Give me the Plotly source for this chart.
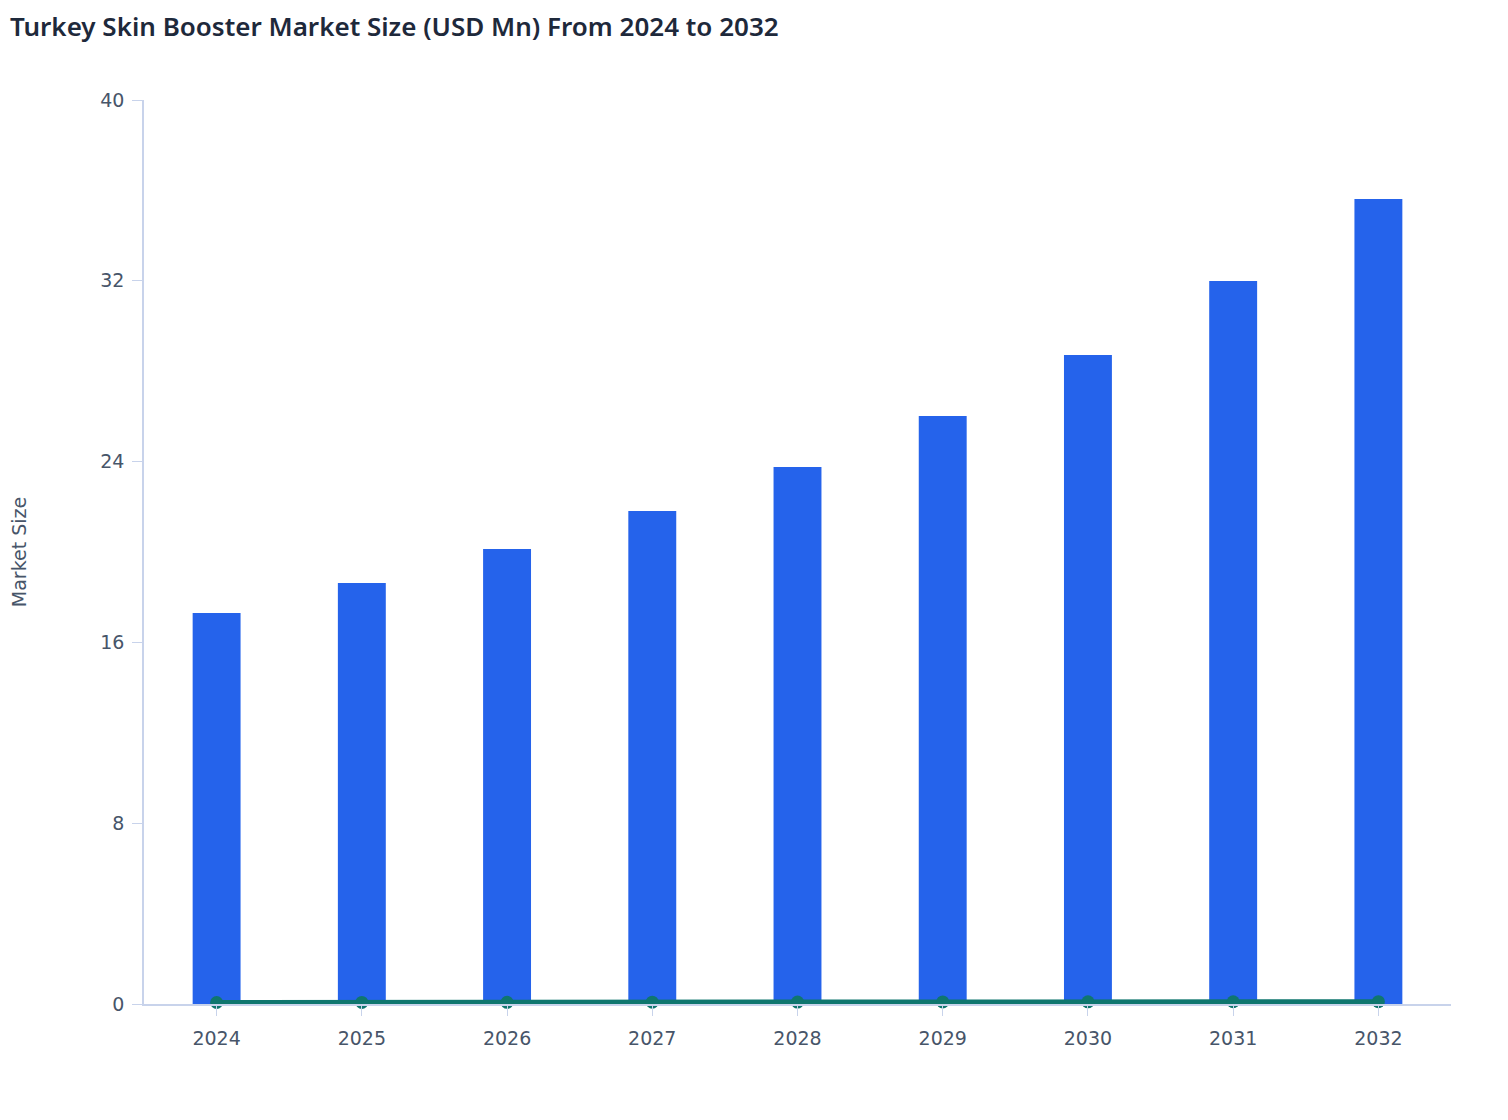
import plotly.graph_objects as go

# Chart data
years = ["2024", "2025", "2026", "2027", "2028", "2029", "2030", "2031", "2032"]
market_size = [17.3, 18.63, 20.13, 21.81, 23.76, 26.02, 28.72, 31.99, 35.62]
growth_line = [0.066, 0.07, 0.074, 0.08, 0.085, 0.09, 0.095, 0.1, 0.105]
y_ticks = [0, 8, 16, 24, 32, 40]

axis_color = "#c8d3eb"
tick_font = dict(family="DejaVu Sans, sans-serif", size=19, color="#475569")

fig = go.Figure()

fig.add_trace(go.Bar(
    x=years,
    y=market_size,
    marker=dict(color="#2563eb", line=dict(width=0)),
    width=0.33,
    name="Market Size",
))

fig.add_trace(go.Scatter(
    x=years,
    y=growth_line,
    mode="lines+markers",
    line=dict(color="#0f766e", width=5),
    marker=dict(color="#0f766e", size=13, line=dict(width=0)),
    cliponaxis=False,
    name="Growth",
))

fig.update_layout(
    width=1508,
    height=1120,
    title=dict(
        text="Turkey Skin Booster Market Size (USD Mn) From 2024 to 2032",
        xref="container", yref="container",
        x=0, xanchor="left",
        y=0.983, yanchor="middle",
        pad=dict(l=2, t=0),
        font=dict(family="Noto Sans, sans-serif", size=26, color="#1e293b", weight=600),
    ),
    paper_bgcolor="white",
    plot_bgcolor="white",
    showlegend=False,
    margin=dict(l=136, r=65, t=92, b=124),
)

fig.update_xaxes(
    type="category",
    showgrid=False,
    showline=True,
    linecolor=axis_color,
    linewidth=1.5,
    ticks="outside",
    ticklen=10,
    tickcolor=axis_color,
    tickfont=tick_font,
    ticklabelstandoff=6,
    range=[-0.5, 8.5],
)

fig.update_yaxes(
    range=[0, 40],
    tickvals=y_ticks,
    showgrid=False,
    zeroline=False,
    showline=True,
    linecolor=axis_color,
    linewidth=1.5,
    ticks="outside",
    ticklen=10,
    tickcolor=axis_color,
    tickfont=tick_font,
    ticklabelstandoff=4,
    automargin=False,
    title=dict(text="Market Size", font=dict(family="DejaVu Sans, sans-serif", size=19, color="#475569"), standoff=72),
)

fig.write_html("out.html")
